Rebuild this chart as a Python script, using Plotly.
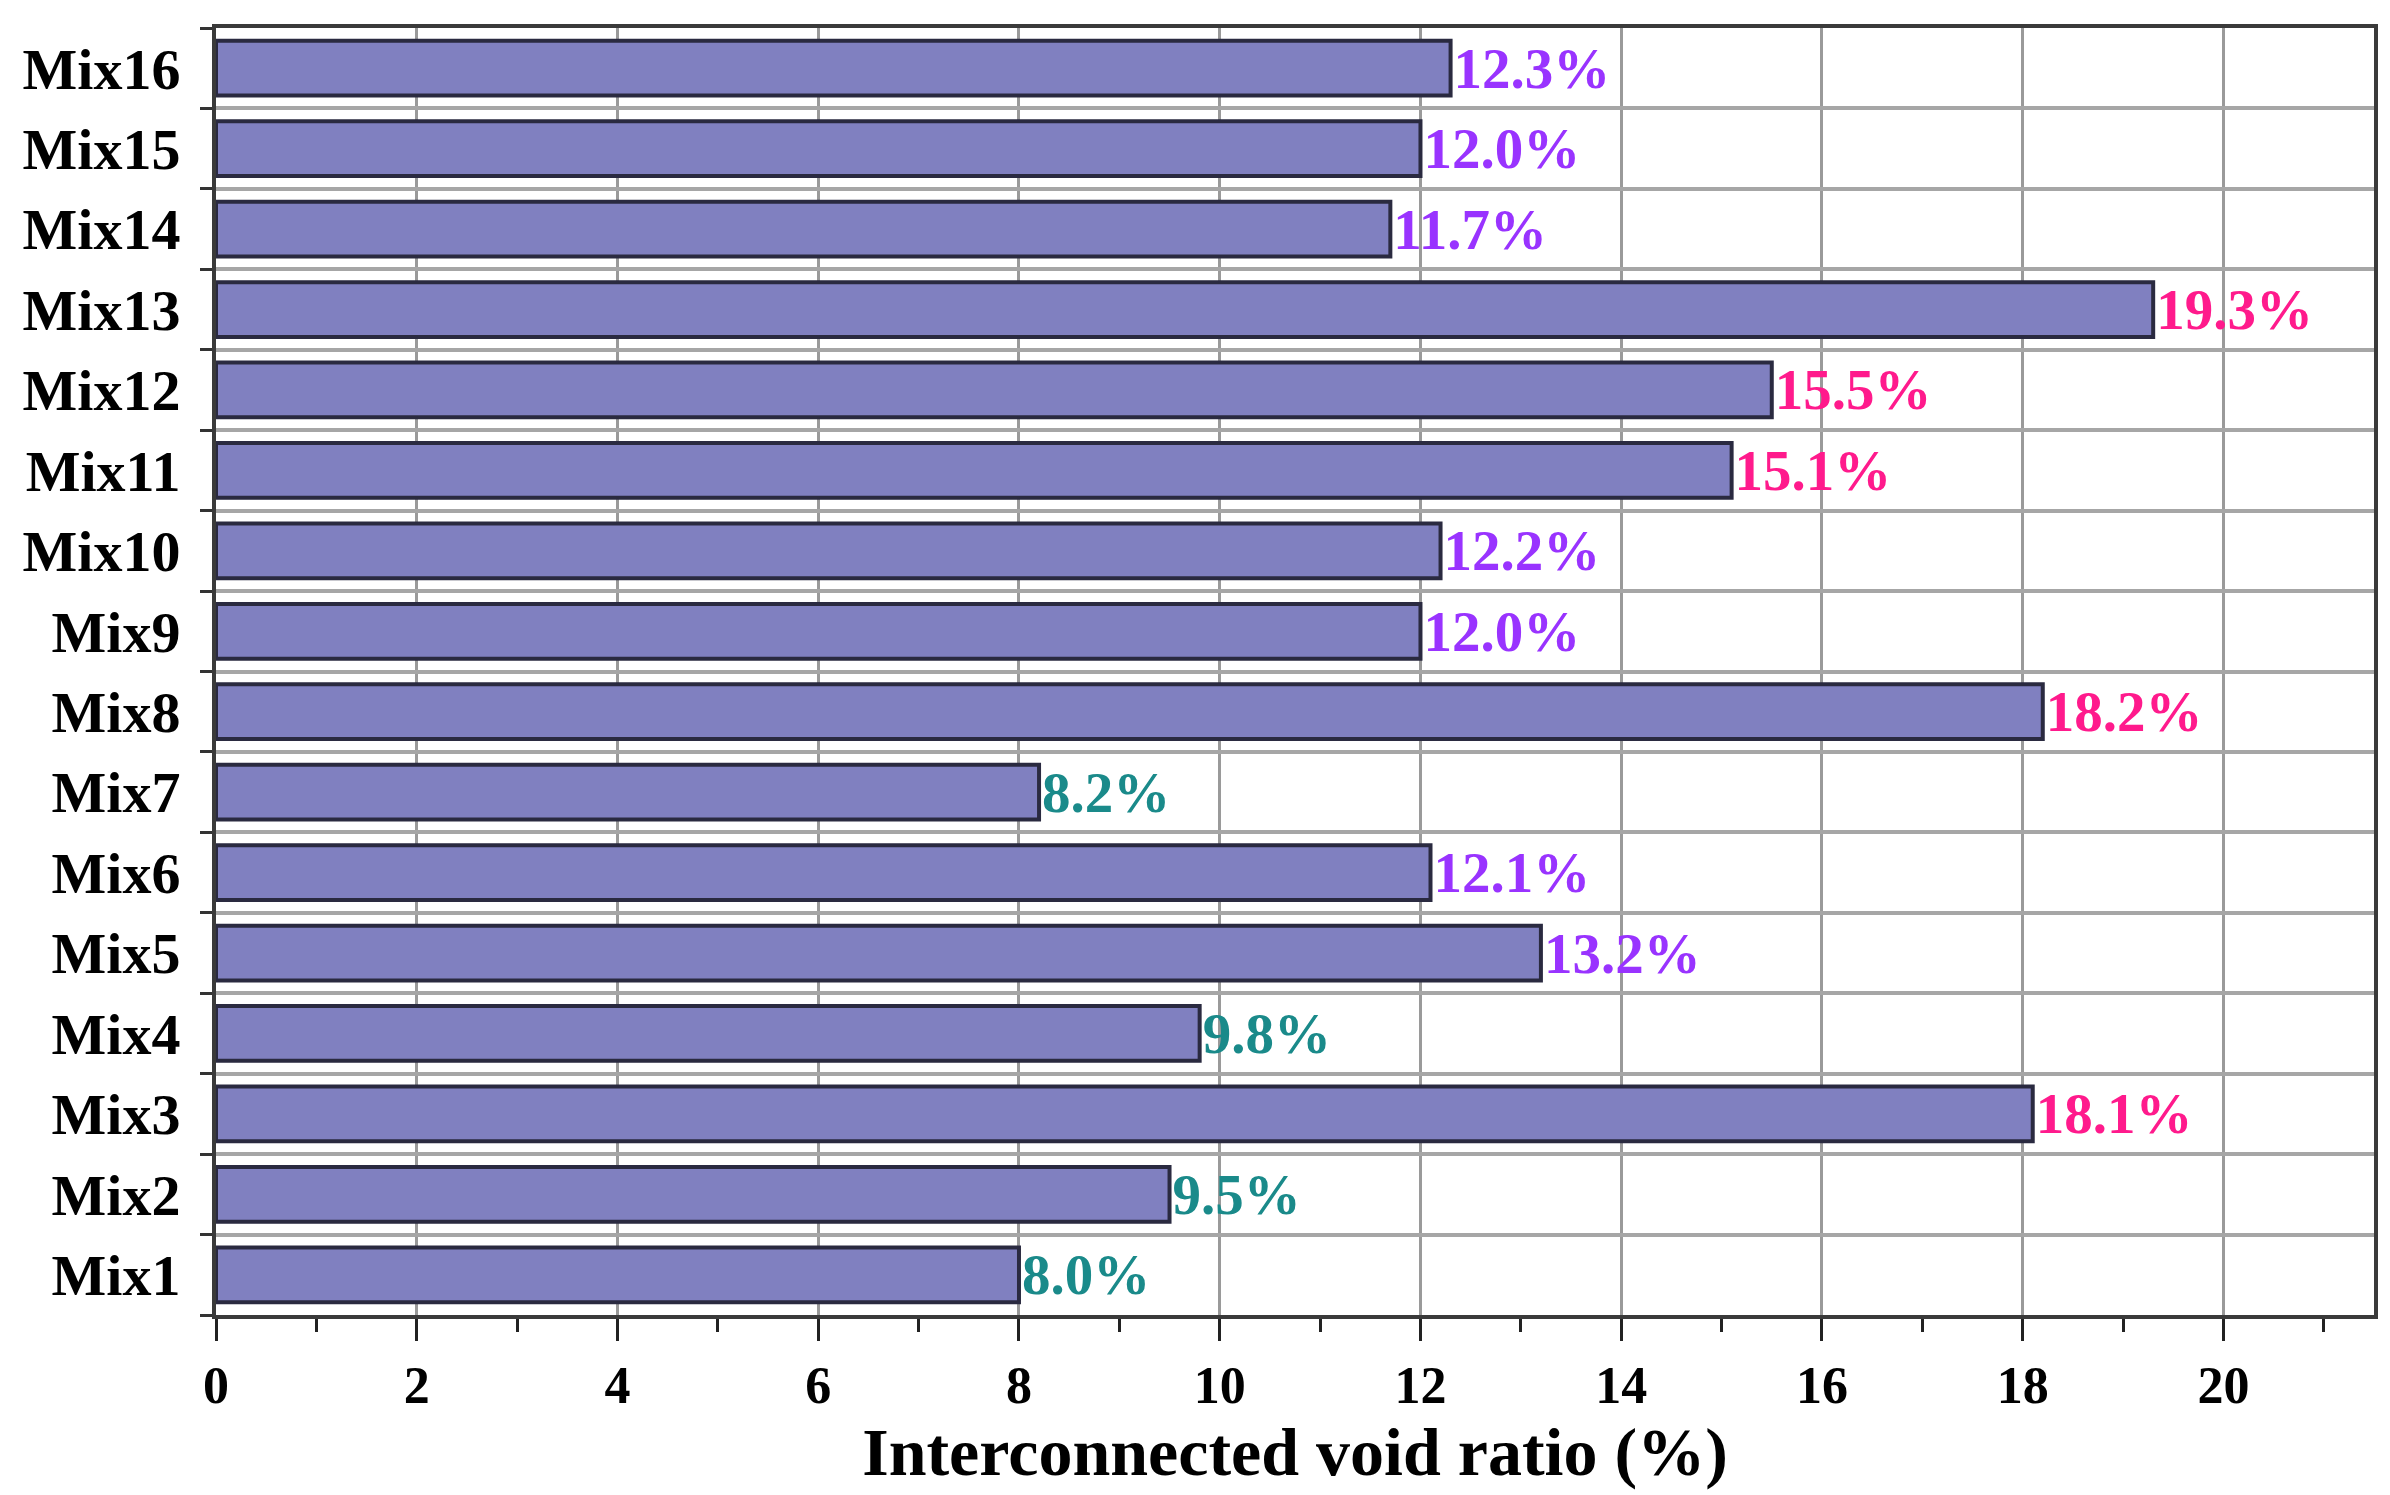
import plotly.graph_objects as go

# ---- data ----
mixes = ["Mix1", "Mix2", "Mix3", "Mix4", "Mix5", "Mix6", "Mix7", "Mix8",
         "Mix9", "Mix10", "Mix11", "Mix12", "Mix13", "Mix14", "Mix15", "Mix16"]
void_ratio = [8.0, 9.5, 18.1, 9.8, 13.2, 12.1, 8.2, 18.2,
              12.0, 12.2, 15.1, 15.5, 19.3, 11.7, 12.0, 12.3]
x_ticks = [0, 2, 4, 6, 8, 10, 12, 14, 16, 18, 20]
x_title = "Interconnected void ratio (%)"

# label colour by value band
def band_color(v):
    if v < 10:
        return "#1A8A8A"
    if v <= 15:
        return "#9933FF"
    return "#FF1A8C"

label_colors = [band_color(v) for v in void_ratio]

FONT = "Liberation Serif"

fig = go.Figure(
    go.Bar(
        x=void_ratio,
        y=mixes,
        orientation="h",
        marker=dict(color="#8080C0", line=dict(color="#2A2A40", width=4)),
        width=0.68,
        texttemplate="%{x:.1f}%",
        textposition="outside",
        textfont=dict(family=FONT, size=57, color=label_colors, weight="bold"),
        constraintext="none",
        cliponaxis=False,
        showlegend=False,
    )
)

fig.update_layout(
    width=2390,
    height=1495,
    margin=dict(l=208, r=24, t=20, b=188),
    paper_bgcolor="white",
    plot_bgcolor="white",
    font=dict(family=FONT, color="black"),
)

fig.update_xaxes(
    range=[0, 21.5],
    tickvals=x_ticks,
    ticktext=[str(t) for t in x_ticks],
    ticks="outside",
    ticklen=22,
    tickwidth=3,
    tickcolor="#222222",
    tickfont=dict(family=FONT, size=52, color="black", weight="bold"),
    ticklabelstandoff=0,
    showline=True,
    linecolor="#3A3A3A",
    linewidth=4,
    mirror=True,
    showgrid=True,
    gridcolor="#9A9A9A",
    gridwidth=3,
    zeroline=False,
    minor=dict(dtick=1, tick0=0, ticks="outside", ticklen=13, tickwidth=3,
               tickcolor="#222222", showgrid=False),
    title=dict(text=x_title, font=dict(family=FONT, size=68, color="black", weight="bold"),
               standoff=0),
)

fig.update_yaxes(
    type="category",
    categoryorder="array",
    categoryarray=mixes,
    range=[-0.5, 15.5],
    tickson="boundaries",
    ticks="outside",
    ticklen=12,
    tickwidth=3,
    tickcolor="#333333",
    tickfont=dict(family=FONT, size=58, color="black", weight="bold"),
    ticklabelstandoff=20,
    showline=True,
    linecolor="#3A3A3A",
    linewidth=4,
    mirror=True,
    showgrid=True,
    gridcolor="#A6A6A6",
    gridwidth=4,
    zeroline=False,
)

fig.write_html("out.html")
